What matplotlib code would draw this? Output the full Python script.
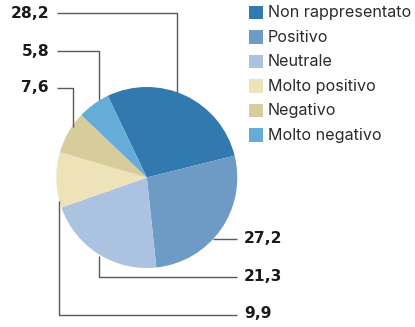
import matplotlib
matplotlib.use("Agg")
import matplotlib.pyplot as plt
from matplotlib.patches import Rectangle

categories = ["Non rappresentato", "Positivo", "Neutrale", "Molto positivo", "Negativo", "Molto negativo"]
values = [28.2, 27.2, 21.3, 9.9, 7.6, 5.8]
value_labels = ["28,2", "27,2", "21,3", "9,9", "7,6", "5,8"]
colors = ["#3279b0", "#6e9bc6", "#abc3e0", "#ede2b8", "#d7cc9b", "#66acd9"]

W, H = 415, 327
fig = plt.figure(figsize=(W / 100, H / 100), dpi=100)
ax = fig.add_axes([0, 0, 1, 1])

def Y(py):
    return H - py

cx, cy, r = 146.8, Y(177.5), 90.5
ax.pie(values, colors=colors, startangle=115.5, counterclock=False,
       center=(cx, cy), radius=r, frame=True,
       wedgeprops=dict(linewidth=0))
ax.set_xlim(0, W)
ax.set_ylim(0, H)
ax.set_aspect("equal")
ax.axis("off")

line_kw = dict(color="#5a5a5a", lw=1.0, solid_capstyle="butt", zorder=1)
lab_kw = dict(fontsize=11.2, fontweight="bold", color="#1a1a1a",
              family="DejaVu Sans", va="center")

# leader lines: (label index, polyline in pixel coords, label position, ha)
leaders = [
    (0, [(57, 13), (176.5, 13), (176.5, 93)], (49, 13), "right"),
    (5, [(57, 51), (98.5, 51), (98.5, 100)], (49, 51), "right"),
    (4, [(57, 88), (72.5, 88), (72.5, 127)], (49, 88), "right"),
    (1, [(213, 238.5), (237, 238.5)], (244, 238.5), "left"),
    (2, [(98.5, 256), (98.5, 276.5), (237, 276.5)], (244, 276.5), "left"),
    (3, [(58.5, 201), (58.5, 314.5), (237, 314.5)], (244, 313.5), "left"),
]
for idx, pts, (lx, ly), ha in leaders:
    xs = [p[0] for p in pts]
    ys = [Y(p[1]) for p in pts]
    ax.plot(xs, ys, **line_kw)
    ax.text(lx, Y(ly), value_labels[idx], ha=ha, **lab_kw)

# legend
leg_y = [12.5, 37, 61.5, 86, 110.5, 135]
for cat, col, py in zip(categories, colors, leg_y):
    ax.add_patch(Rectangle((249, Y(py) - 6.5), 13.5, 13.5, facecolor=col, edgecolor="none"))
    ax.text(268, Y(py) - 0.5, cat, fontsize=11.6, color="#2b2b2b",
            family=["Inter", "DejaVu Sans"], va="center", ha="left")

fig.savefig("out.png", dpi=100)
